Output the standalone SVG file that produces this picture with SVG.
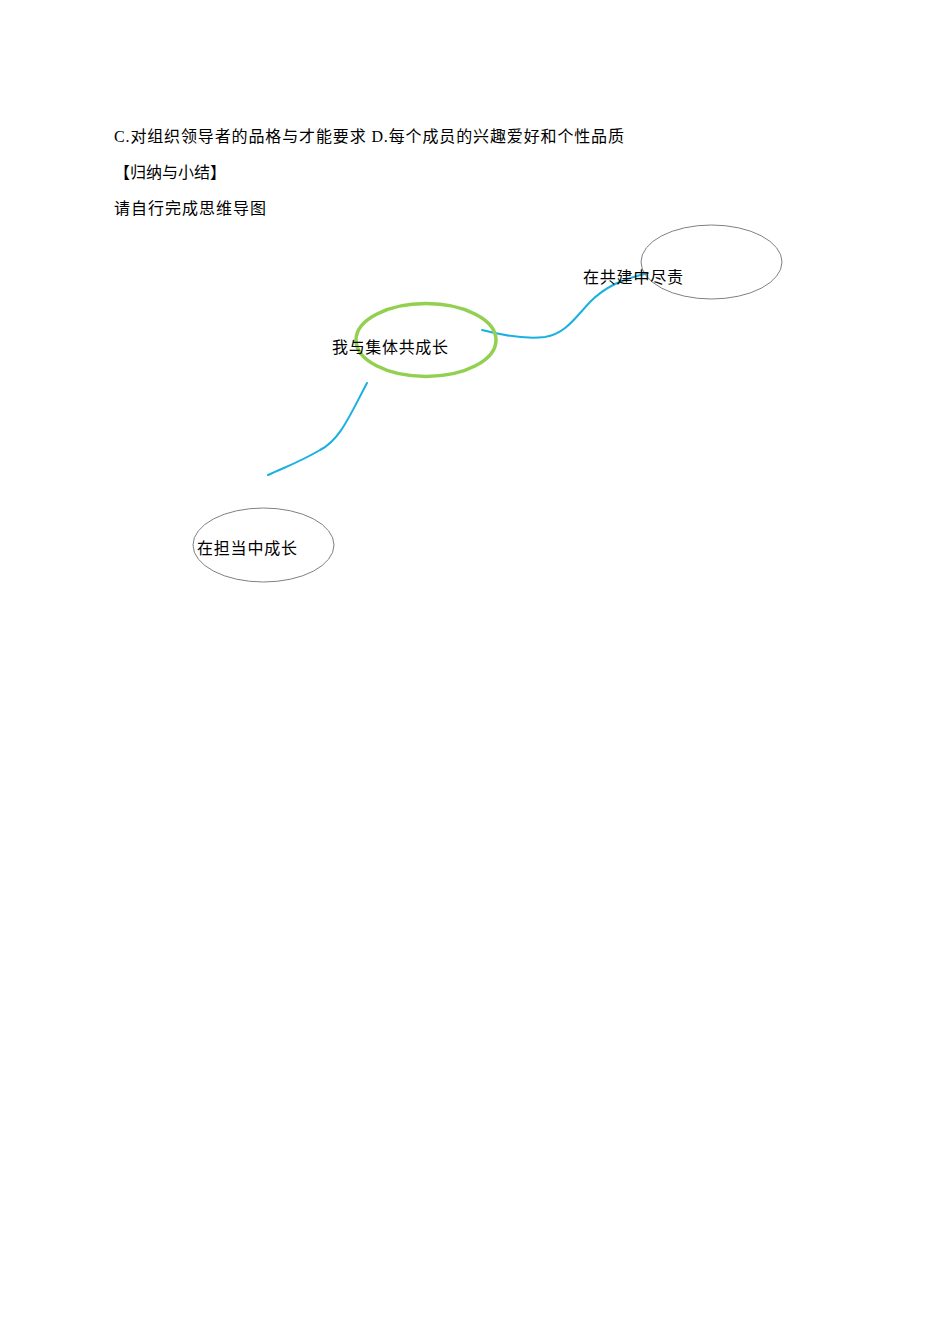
<svg xmlns="http://www.w3.org/2000/svg" width="950" height="1344" viewBox="0 0 950 1344">
<style>
.t{font-family:"Liberation Serif","Noto Sans CJK SC",serif;font-size:16px;fill:#000}
.g{fill:none;stroke:#808080;stroke-width:1}
.c{fill:none;stroke:#1ab0e0;stroke-width:2;stroke-linecap:round}
</style>
<rect width="950" height="1344" fill="#fff"/>
<text class="t" x="114" y="142" textLength="510" lengthAdjust="spacing">C.对组织领导者的品格与才能要求 D.每个成员的兴趣爱好和个性品质</text>
<text class="t" x="114" y="178" textLength="112" lengthAdjust="spacing">【归纳与小结】</text>
<text class="t" x="114" y="214" textLength="152" lengthAdjust="spacing">请自行完成思维导图</text>
<g id="connectors">
<path class="c" d="M482 330 Q520 340 545 337 C565 334 575 318 590 302 C605 287 620 280 648 273"/>
<path class="c" d="M367 383 C350 415 340 440 320 450 C300 462 285 467 268 475"/>
</g>
<g id="center">
<ellipse cx="426" cy="340" rx="70" ry="36.5" fill="none" stroke="#92d050" stroke-width="3.5"/>
<text class="t" x="332" y="353" textLength="116" lengthAdjust="spacing">我与集体共成长</text>
</g>
<g id="node-right">
<ellipse class="g" cx="711.5" cy="262" rx="70.5" ry="37"/>
<text class="t" x="583" y="283" textLength="100" lengthAdjust="spacing">在共建中尽责</text>
</g>
<g id="node-left">
<ellipse class="g" cx="263.5" cy="545" rx="70.5" ry="37"/>
<text class="t" x="197" y="554" textLength="100" lengthAdjust="spacing">在担当中成长</text>
</g>
</svg>
